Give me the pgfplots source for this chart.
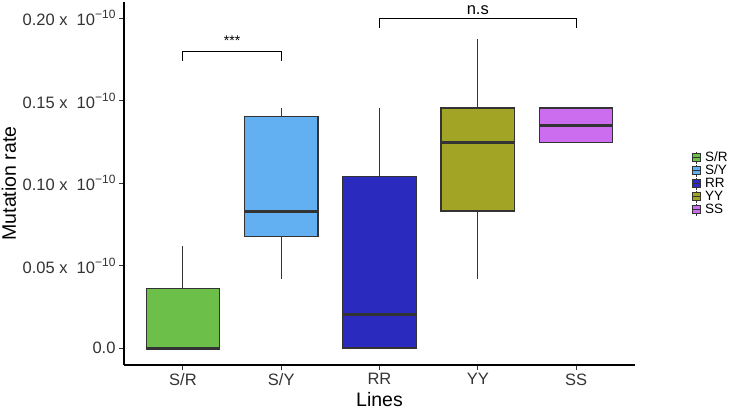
\documentclass[border=0pt]{standalone}
\usepackage{fontspec}
\setmainfont{Liberation Sans}
\usepackage{pgfplots}
\pgfplotsset{compat=1.18}
\usepgfplotslibrary{statistics}
\definecolor{cSR}{HTML}{6CC04A}
\definecolor{cSY}{HTML}{62AFF1}
\definecolor{cRR}{HTML}{2A2ABE}
\definecolor{cYY}{HTML}{A2A426}
\definecolor{cSS}{HTML}{CC6CEE}
\definecolor{edge}{HTML}{333333}
\definecolor{tickc}{HTML}{333333}
\newcommand{\sci}{ x\hspace{0.55em}10\raisebox{0.42em}{\fontsize{12}{12}\selectfont −10}}
\newcommand{\lgimg}[1]{%
\addlegendimage{legend image code/.code={
  \draw[edge, line width=0.7pt] (4pt,-6pt) -- (4pt,6pt);
  \draw[fill=#1, draw=edge, line width=0.7pt] (0.3pt,-4pt) rectangle (7.7pt,4pt);
  \draw[edge, line width=1.3pt] (0.3pt,0pt) -- (7.7pt,0pt);
}}}
\begin{document}
\begin{tikzpicture}
\path[use as bounding box] (0,0) rectangle (742pt,410pt);
\begin{axis}[
  at={(124pt,45pt)}, anchor=south west,
  scale only axis, width=511pt, height=363pt,
  xmin=-0.6, xmax=4.6, ymin=-0.0103, ymax=0.2097,
  axis x line*=bottom, axis y line*=left,
  axis line style={line width=1.2pt, -, black},
  clip=false,
  xtick={0,1,2,3,4}, xticklabels={S/R,S/Y,RR,YY,SS},
  ytick={0,0.05,0.1,0.15,0.2},
  yticklabels={0.0, {0.05\sci}, {0.10\sci}, {0.15\sci}, {0.20\sci}},
  tick align=outside, major tick length=5pt,
  tick style={line width=1pt, tickc},
  minor tick num=0,
  tick label style={font=\fontsize{16.5}{18}\selectfont, text=tickc},
  xlabel={Lines}, ylabel={Mutation rate},
  label style={font=\fontsize{19.5}{22}\selectfont, text=black, inner sep=0pt},
  xlabel style={at={(axis description cs:0.5,-0.094)}, anchor=center},
  ylabel style={at={(axis description cs:-0.225,0.5)}, anchor=center, rotate=0},
  boxplot/draw direction=y,
  boxplot/every median/.style={line width=3pt, draw=edge},
  boxplot/every whisker/.style={line width=1pt, draw=edge},
  legend style={draw=none, fill=none, at={(rel axis cs:1.105,0.5)}, anchor=west,
    font=\fontsize{13.5}{13.5}\selectfont, row sep=0.3pt, column sep=4pt,
    nodes={inner sep=0.6pt, text=black}},
  legend cell align=left,
]
\addplot[boxplot prepared={lower whisker=0, lower quartile=0, median=0, upper quartile=0.0362, upper whisker=0.062, draw position=0, box extend=0.75, whisker extend=0}, fill=cSR, draw=edge, line width=1.2pt, mark=none, forget plot] coordinates {};
\addplot[boxplot prepared={lower whisker=0.0416, lower quartile=0.0675, median=0.083, upper quartile=0.1404, upper whisker=0.1455, draw position=1, box extend=0.75, whisker extend=0}, fill=cSY, draw=edge, line width=1.2pt, mark=none, forget plot] coordinates {};
\addplot[boxplot prepared={lower whisker=0, lower quartile=0, median=0.0204, upper quartile=0.1039, upper whisker=0.1455, draw position=2, box extend=0.75, whisker extend=0}, fill=cRR, draw=edge, line width=1.2pt, mark=none, forget plot] coordinates {};
\addplot[boxplot prepared={lower whisker=0.0416, lower quartile=0.083, median=0.1247, upper quartile=0.1455, upper whisker=0.187, draw position=3, box extend=0.75, whisker extend=0}, fill=cYY, draw=edge, line width=1.2pt, mark=none, forget plot] coordinates {};
\addplot[boxplot prepared={lower whisker=0.1247, lower quartile=0.1247, median=0.135, upper quartile=0.1455, upper whisker=0.1455, draw position=4, box extend=0.75, whisker extend=0}, fill=cSS, draw=edge, line width=1.2pt, mark=none, forget plot] coordinates {};
% significance brackets
\addplot[black, line width=1pt, sharp plot, mark=none, forget plot] coordinates {(0,0.174) (0,0.1798) (1,0.1798) (1,0.174)};
\addplot[black, line width=1pt, sharp plot, mark=none, forget plot] coordinates {(2,0.194) (2,0.1998) (4,0.1998) (4,0.194)};
\node[anchor=base, font=\fontsize{14}{14}\selectfont] at (axis cs:0.5,0.1835) {***};
\node[anchor=base, font=\fontsize{16.5}{16.5}\selectfont] at (axis cs:3,0.2024) {n.s};
\lgimg{cSR}\addlegendentry{S/R}
\lgimg{cSY}\addlegendentry{S/Y}
\lgimg{cRR}\addlegendentry{RR}
\lgimg{cYY}\addlegendentry{YY}
\lgimg{cSS}\addlegendentry{SS}
\end{axis}
\end{tikzpicture}
\end{document}
